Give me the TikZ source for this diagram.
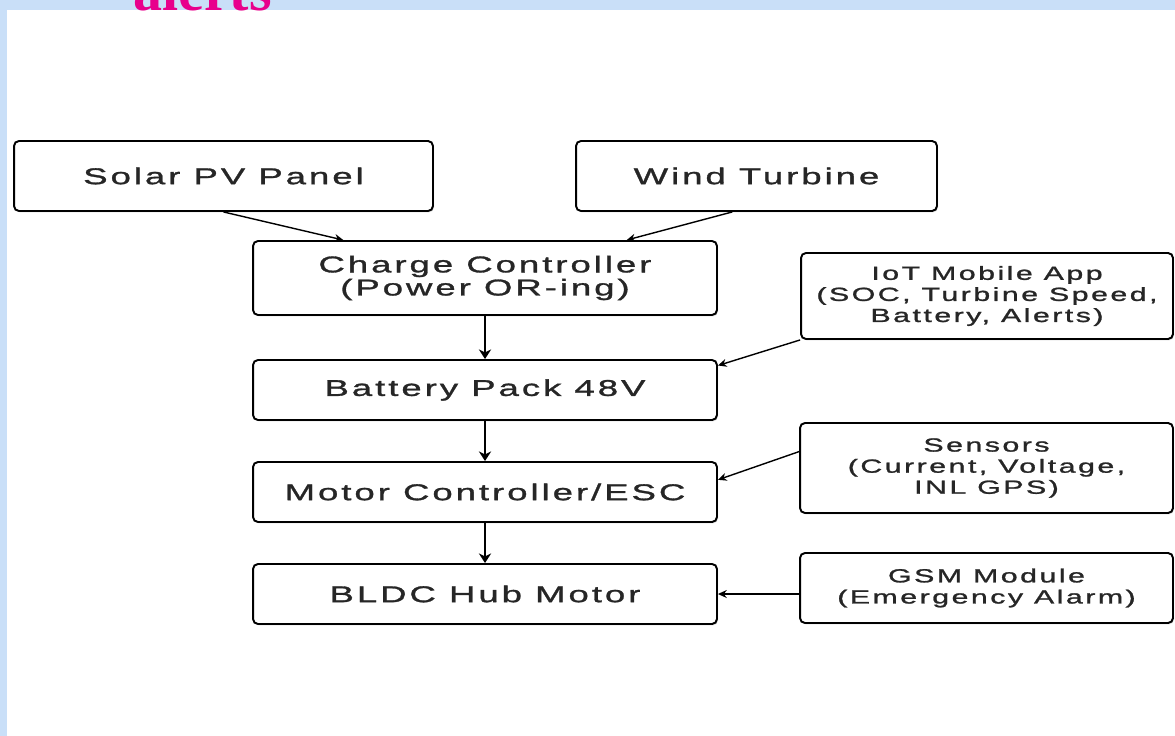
\documentclass[tikz,border=0pt]{standalone}
\usepackage{fontspec}
\setmainfont{Liberation Serif}
\newfontfamily\boxfont[FakeStretch=1.6,LetterSpace=13,FakeBold=1.3]{Liberation Sans}
\usetikzlibrary{calc,arrows.meta,positioning,shadows}
\definecolor{bandblue}{RGB}{201,223,248}
\definecolor{alertpink}{RGB}{232,0,140}

\begin{document}
\begin{tikzpicture}[x=0.02cm,y=-0.02cm,
    blk/.style={draw,line width=1.1pt,rounded corners=2.8pt,fill=white,
        drop shadow={opacity=0.25,shadow xshift=0.6pt,shadow yshift=-0.8pt},
        align=center,text=black!85,inner sep=0pt,
        font=\boxfont\fontsize{13}{11.6}\selectfont},
    sideblk/.style={blk,font=\boxfont\fontsize{10.8}{12}\selectfont},
    flow/.style={-{Stealth[length=5.5pt,width=7pt]},line width=1.4pt},
    feed/.style={-{Stealth[length=5pt,width=4.5pt]},line width=0.8pt}]
    \useasboundingbox (0,0) rectangle (1175,736);
    \fill[bandblue] (0,0) rectangle (1175,736);
    \fill[white] (7,10) rectangle (1175,736);
    \node[anchor=base west,inner sep=0pt,text=alertpink,
        font=\fontsize{33}{33}\selectfont\bfseries] (alerts) at (133,11) {alerts};

    % sources
    \node[blk,minimum width=8.38cm,minimum height=1.4cm] (solar) at (223.5,176) {Solar PV Panel};
    \node[blk,minimum width=7.22cm,minimum height=1.4cm] (wind) at (756.5,176) {Wind Turbine};

    % main chain
    \node[blk,minimum width=9.28cm,minimum height=1.48cm] (charge) at (485,278) {Charge Controller\\(Power OR-ing)};
    \node[blk,minimum width=9.28cm,minimum height=1.2cm] (battery) at (485,390) {Battery Pack 48V};
    \node[blk,minimum width=9.28cm,minimum height=1.2cm] (motor) at (485,492) {Motor Controller/ESC};
    \node[blk,minimum width=9.28cm,minimum height=1.2cm] (bldc) at (485,594) {BLDC Hub Motor};

    % side modules
    \node[sideblk,minimum width=7.44cm,minimum height=1.72cm] (iot) at (987,296) {IoT Mobile App\\(SOC, Turbine Speed,\\Battery, Alerts)};
    \node[sideblk,minimum width=7.46cm,minimum height=1.8cm] (sensors) at (986.5,468) {Sensors\\(Current, Voltage,\\INL GPS)};
    \node[sideblk,minimum width=7.46cm,minimum height=1.4cm] (gsm) at (986.5,588) {GSM Module\\(Emergency Alarm)};

    \draw[feed] (solar.south) -- (charge.165.4);
    \draw[feed] (wind.236) -- (charge.15.9);
    \draw[flow] (charge) -- (battery);
    \draw[flow] (battery) -- (motor);
    \draw[flow] (motor) -- (bldc);
    \draw[feed] (iot.south west) -- (battery.6);
    \draw[feed] (sensors.175.1) -- (motor.3.5);
    \draw[feed] (gsm.west |- bldc.east) -- (bldc.east);
\end{tikzpicture}
\end{document}
